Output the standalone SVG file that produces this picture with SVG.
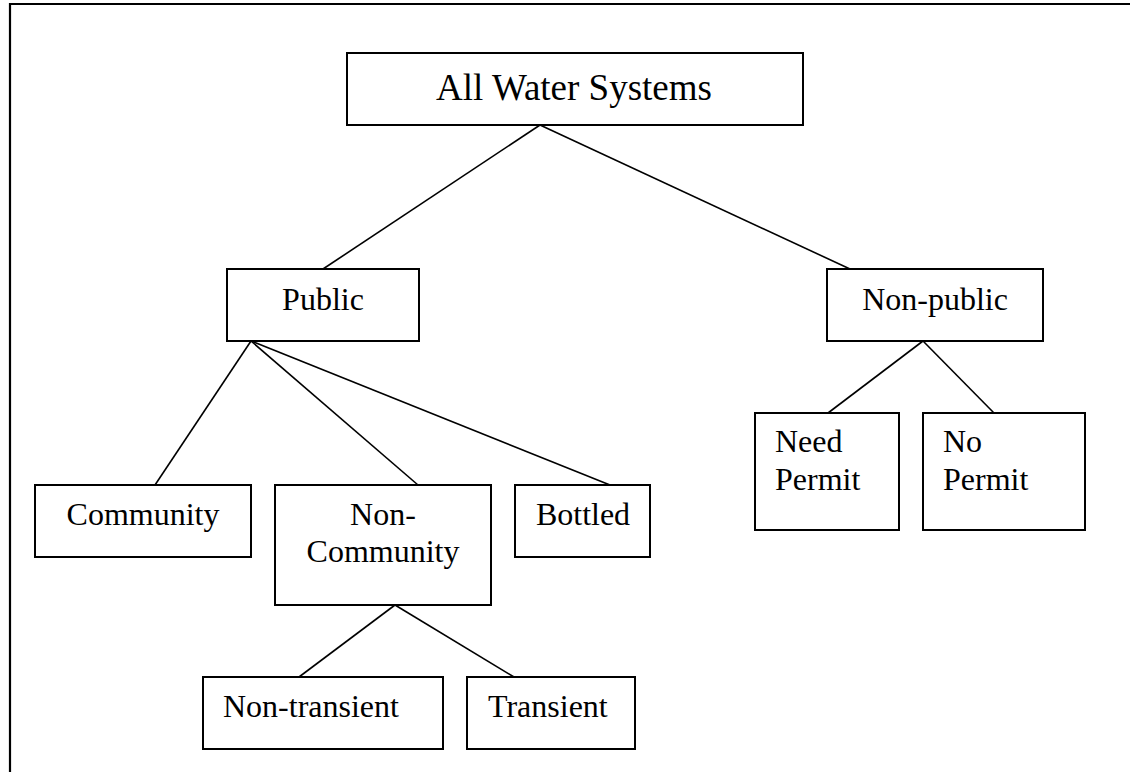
<svg xmlns="http://www.w3.org/2000/svg" width="1130" height="772" viewBox="0 0 1130 772">
<style>
.box{fill:#fff;stroke:#000;stroke-width:2}
.t{font-family:"Liberation Serif","Times New Roman",serif;font-size:32px;fill:#000}
.c{text-anchor:middle}
.ln{stroke:#000;stroke-width:1.6;fill:none}
</style>
<rect width="1130" height="772" fill="#fff"/>
<path d="M10,772 V4 H1130" fill="none" stroke="#000" stroke-width="2.2"/>
<g id="connectors">
<line class="ln" x1="540" y1="125" x2="323" y2="269"/>
<line class="ln" x1="540" y1="125" x2="850" y2="269"/>
<line class="ln" x1="251" y1="341" x2="155" y2="485"/>
<line class="ln" x1="251" y1="341" x2="418" y2="485"/>
<line class="ln" x1="251" y1="341" x2="610" y2="485"/>
<line class="ln" x1="923" y1="341" x2="828" y2="413"/>
<line class="ln" x1="923" y1="341" x2="994" y2="413"/>
<line class="ln" x1="395" y1="605" x2="299" y2="677"/>
<line class="ln" x1="395" y1="605" x2="514" y2="677"/>
</g>
<g id="root">
<rect class="box" x="347" y="53" width="456" height="72"/>
<text class="t c" x="574" y="100" style="font-size:37px">All Water Systems</text>
</g>
<g id="public">
<rect class="box" x="227" y="269" width="192" height="72"/>
<text class="t c" x="323" y="310">Public</text>
</g>
<g id="nonpublic">
<rect class="box" x="827" y="269" width="216" height="72"/>
<text class="t c" x="935" y="310">Non-public</text>
</g>
<g id="community">
<rect class="box" x="35" y="485" width="216" height="72"/>
<text class="t c" x="143" y="525">Community</text>
</g>
<g id="noncommunity">
<rect class="box" x="275" y="485" width="216" height="120"/>
<text class="t c" x="383" y="525">Non-</text>
<text class="t c" x="383" y="562">Community</text>
</g>
<g id="bottled">
<rect class="box" x="515" y="485" width="135" height="72"/>
<text class="t c" x="583" y="525">Bottled</text>
</g>
<g id="needpermit">
<rect class="box" x="755" y="413" width="144" height="117"/>
<text class="t" x="775" y="452">Need</text>
<text class="t" x="775" y="490">Permit</text>
</g>
<g id="nopermit">
<rect class="box" x="923" y="413" width="162" height="117"/>
<text class="t" x="943" y="452">No</text>
<text class="t" x="943" y="490">Permit</text>
</g>
<g id="nontransient">
<rect class="box" x="203" y="677" width="240" height="72"/>
<text class="t" x="223" y="717">Non-transient</text>
</g>
<g id="transient">
<rect class="box" x="467" y="677" width="168" height="72"/>
<text class="t" x="488" y="717">Transient</text>
</g>
</svg>
